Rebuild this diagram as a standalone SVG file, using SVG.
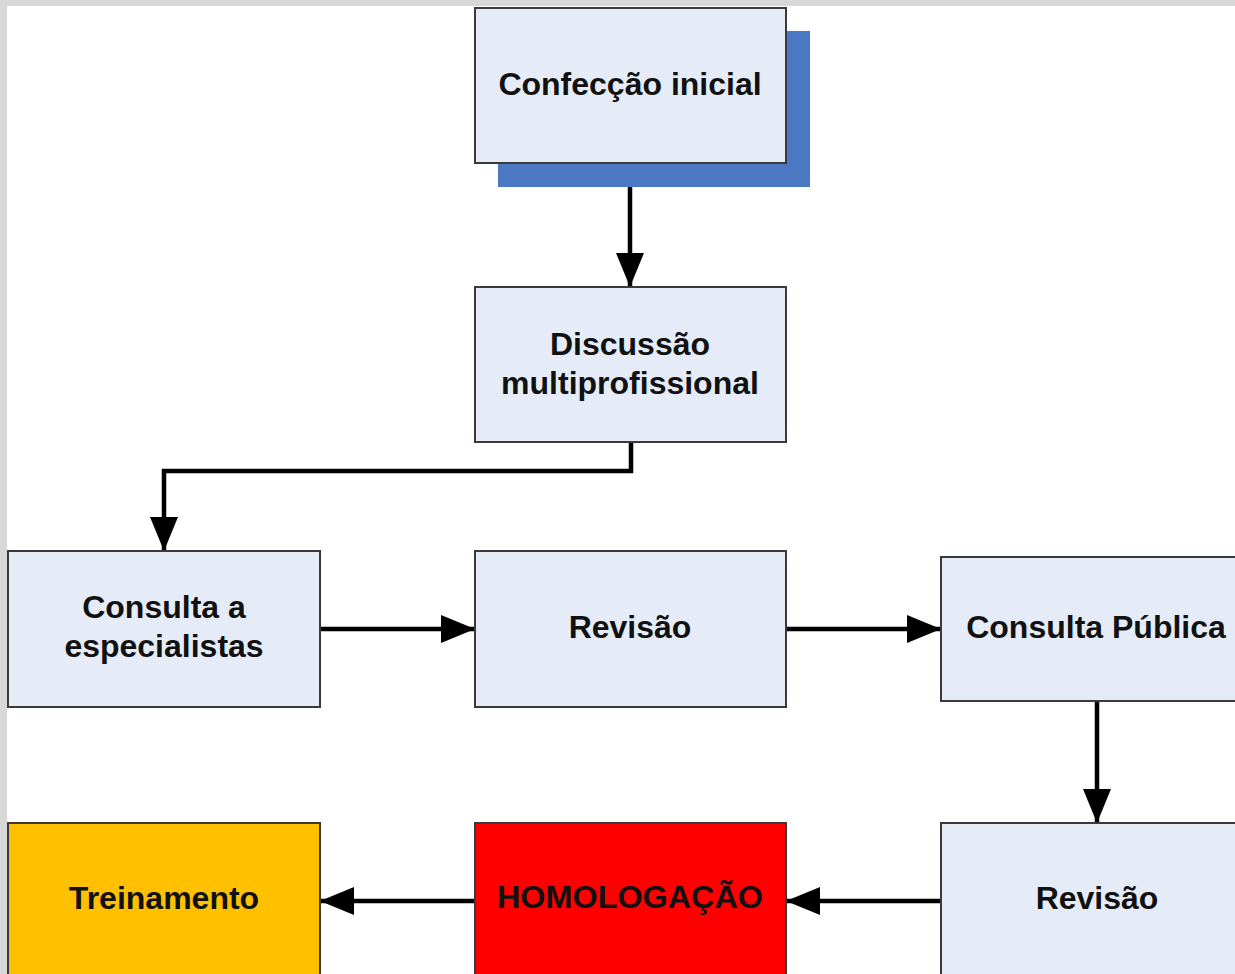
<svg xmlns="http://www.w3.org/2000/svg" width="1235" height="974" viewBox="0 0 1235 974">
<defs>
<style>
.box{stroke:#3a3a3a;stroke-width:2}
.lt{fill:#e6ecf7}
.t{font-family:"Liberation Sans",Arial,sans-serif;font-weight:bold;font-size:32px;fill:#111;text-anchor:middle}
.c{fill:none;stroke:#000;stroke-width:4.5;marker-end:url(#ah)}
</style>
<marker id="ah" markerUnits="userSpaceOnUse" markerWidth="34" markerHeight="28" viewBox="0 0 34 28" refX="34" refY="14" orient="auto">
<path d="M0,0 L34,14 L0,28 Z" fill="#000"/>
</marker>
</defs>
<rect x="0" y="0" width="1235" height="974" fill="#d8d8d8"/>
<rect x="7" y="6" width="1228" height="968" fill="#ffffff"/>

<g id="connectors">
<path class="c" d="M630,163 V287"/>
<path class="c" d="M631,442 V471 H164 V551"/>
<path class="c" d="M320,629 H475"/>
<path class="c" d="M786,629 H941"/>
<path class="c" d="M1097,701 V823"/>
<path class="c" d="M943,901 H786"/>
<path class="c" d="M475,901 H320"/>
</g>

<g id="n1">
<rect x="498" y="31" width="312" height="156" fill="#4a78c2"/>
<rect class="box lt" x="475" y="8" width="311" height="155"/>
<text class="t" x="630" y="95">Confecção inicial</text>
</g>
<g id="n2">
<rect class="box lt" x="475" y="287" width="311" height="155"/>
<text class="t" x="630" y="355">Discussão</text>
<text class="t" x="630" y="394">multiprofissional</text>
</g>
<g id="n3">
<rect class="box lt" x="8" y="551" width="312" height="156"/>
<text class="t" x="164" y="618">Consulta a</text>
<text class="t" x="164" y="657">especialistas</text>
</g>
<g id="n4">
<rect class="box lt" x="475" y="551" width="311" height="156"/>
<text class="t" x="630" y="638">Revisão</text>
</g>
<g id="n5">
<rect class="box lt" x="941" y="557" width="310" height="144"/>
<text class="t" x="1096" y="638">Consulta Pública</text>
</g>
<g id="n6">
<rect class="box lt" x="941" y="823" width="310" height="160"/>
<text class="t" x="1097" y="909">Revisão</text>
</g>
<g id="n7">
<rect class="box" x="475" y="823" width="311" height="160" fill="#ff0000"/>
<text class="t" x="630" y="908" textLength="266" lengthAdjust="spacingAndGlyphs" style="font-size:31px">HOMOLOGAÇÃO</text>
</g>
<g id="n8">
<rect class="box" x="8" y="823" width="312" height="160" fill="#ffc000"/>
<text class="t" x="164" y="909">Treinamento</text>
</g>
</svg>
